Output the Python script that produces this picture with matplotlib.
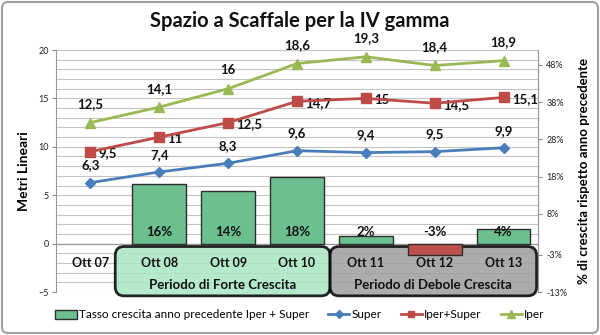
import matplotlib
matplotlib.use("Agg")
import matplotlib.pyplot as plt
from matplotlib.patches import FancyBboxPatch, Patch
from matplotlib.lines import Line2D
from matplotlib.transforms import IdentityTransform
import numpy as np

plt.rcParams['font.family'] = ['Lato', 'DejaVu Sans']

categories = ["Ott 07", "Ott 08", "Ott 09", "Ott 10", "Ott 11", "Ott 12", "Ott 13"]
super_vals = [6.3, 7.4, 8.3, 9.6, 9.4, 9.5, 9.9]
iper_super_vals = [9.5, 11, 12.5, 14.7, 15, 14.5, 15.1]
iper_vals = [12.5, 14.1, 16, 18.6, 19.3, 18.4, 18.9]
growth_pct = [None, 16, 14, 18, 2, -3, 4]
right_ticks = [48, 38, 28, 18, 8, -3, -13]
left_ticks = [-5, 0, 5, 10, 15, 20]
period_labels = ["Periodo di Forte Crescita", "Periodo di Debole Crescita"]

C_SUPER = "#4A7EBB"
C_IS = "#BE4B48"
C_IPER = "#98B954"
C_BAR = "#6CC08F"
C_NEG = "#C0504D"

W, H, DPI = 600, 335, 100
fig = plt.figure(figsize=(W / DPI, H / DPI), dpi=DPI)
fig.patch.set_facecolor("white")

L, R, T, B = 56, 538, 50, 292
ax = fig.add_axes([L / W, 1 - B / H, (R - L) / W, (B - T) / H])
x = np.arange(len(categories))
ax.set_xlim(-0.5, len(categories) - 0.5)
ax.set_ylim(-5, 20)
ax.set_yticks(left_ticks)
ax.set_yticks(np.arange(-5, 21, 1), minor=True)
ax.grid(True, axis='y', which='both', color='#C4C4C4', linewidth=0.8)
ax.set_axisbelow(True)
ax.tick_params(axis='y', which='major', labelsize=6.5, length=3, color='#888888', labelcolor='#222222', pad=2)
ax.tick_params(axis='y', which='minor', length=0)
ax.set_xticks([])
for s in ['top', 'bottom']:
    ax.spines[s].set_visible(False)
ax.spines['left'].set_color('#999999')
ax.spines['right'].set_color('#999999')
ax.axhline(0, color='#999999', linewidth=0.9, zorder=1)
ax.set_ylabel("Metri Lineari", fontsize=10, fontweight='bold', labelpad=6)

# period boxes (drawn in display pixels for proper rounding)
def px(xd, yd):
    return ax.transData.transform((xd, yd))

boxes = [(0.36, 3.48, "#A8E6C2", period_labels[0]), (3.48, 6.48, "#9E9E9E", period_labels[1])]
for x0, x1, fc, lab in boxes:
    p0 = px(x0, -0.3)
    p1 = px(x1, -5.4)
    bx = FancyBboxPatch((p0[0] + 3, p1[1] + 3), p1[0] - p0[0] - 6, p0[1] - p1[1] - 6,
                        boxstyle="round,pad=3,rounding_size=9", transform=IdentityTransform(),
                        facecolor=fc, alpha=0.85, edgecolor='black', linewidth=2.0,
                        zorder=2, clip_on=False)
    ax.add_artist(bx)
    ax.text((x0 + x1) / 2, -4.3, lab, ha='center', va='center', fontsize=9.5, fontweight='bold',
            color='#111111', zorder=3, clip_on=False)

for i, c in enumerate(categories):
    ax.text(i, -2.0, c, ha='center', va='center', fontsize=9, fontweight='bold',
            color='#111111', zorder=3)

# bars on right axis
ax2 = ax.twinx()
ax2.set_ylim(-13, 52)
ax2.set_yticks(right_ticks)
ax2.set_yticklabels([f"{v}%" for v in right_ticks])
ax2.tick_params(axis='y', labelsize=6.5, length=3, color='#888888', labelcolor='#222222', pad=3)
for s in ['top', 'bottom', 'left']:
    ax2.spines[s].set_visible(False)
ax2.spines['right'].set_color('#999999')
ax2.set_ylabel("% di crescita rispetto anno precedente", fontsize=9.5, fontweight='bold', labelpad=8)
bx_idx = [i for i, v in enumerate(growth_pct) if v is not None]
bv = [growth_pct[i] for i in bx_idx]
colors = [C_BAR if v >= 0 else C_NEG for v in bv]
ax2.bar(bx_idx, bv, width=0.78, color=colors, edgecolor='#2E2E2E', linewidth=1.0, zorder=4)

# lines on top axis sharing left scale
ax3 = ax.twinx()
ax3.set_ylim(ax.get_ylim())
ax3.axis('off')
ax3.plot(x, iper_vals, color=C_IPER, lw=2, marker='^', ms=7, zorder=5)
ax3.plot(x, iper_super_vals, color=C_IS, lw=2, marker='s', ms=6.5, zorder=5)
ax3.plot(x, super_vals, color=C_SUPER, lw=2, marker='D', ms=5, zorder=5)

lab_kw = dict(fontsize=9.5, fontweight='bold', color='#111111')
fmt = lambda v: (f"{v:g}").replace('.', ',')
for i, v in enumerate(iper_vals):
    ax3.annotate(fmt(v), (i, v), xytext=(0, 9), textcoords='offset points', ha='center', va='bottom', **lab_kw)
for i, v in enumerate(iper_super_vals):
    ax3.annotate(fmt(v), (i, v), xytext=(6, -1), textcoords='offset points', ha='left', va='center', **lab_kw)
for i, v in enumerate(super_vals):
    ax3.annotate(fmt(v), (i, v), xytext=(0, 8), textcoords='offset points', ha='center', va='bottom', **lab_kw)
for i in bx_idx:
    ax3.text(i, 1.2, f"{growth_pct[i]}%", ha='center', va='center', **lab_kw)

fig.text(0.5, 1 - 21 / H, "Spazio a Scaffale per la IV gamma", ha='center', va='center',
         fontsize=14.5, fontweight='bold', color='#111111')

handles = [Patch(facecolor=C_BAR, edgecolor='#2E2E2E', linewidth=1.0),
           Line2D([], [], color=C_SUPER, lw=2, marker='D', ms=4),
           Line2D([], [], color=C_IS, lw=2, marker='s', ms=5),
           Line2D([], [], color=C_IPER, lw=2, marker='^', ms=5.5)]
labels = ["Tasso crescita anno precedente Iper + Super", "Super", "Iper+Super", "Iper"]
fig.legend(handles, labels, loc='center', bbox_to_anchor=(0.5, 1 - 315 / H), ncol=4,
           frameon=False, fontsize=8.5, handlelength=1.8, handletextpad=0.2, columnspacing=1.6)

border = FancyBboxPatch((2, 2), W - 4, H - 4, boxstyle="round,pad=0,rounding_size=6",
                        transform=IdentityTransform(), facecolor='none', edgecolor='#A0A0A0', linewidth=1.5)
fig.patches.append(border)

fig.savefig("out.png", dpi=DPI)
